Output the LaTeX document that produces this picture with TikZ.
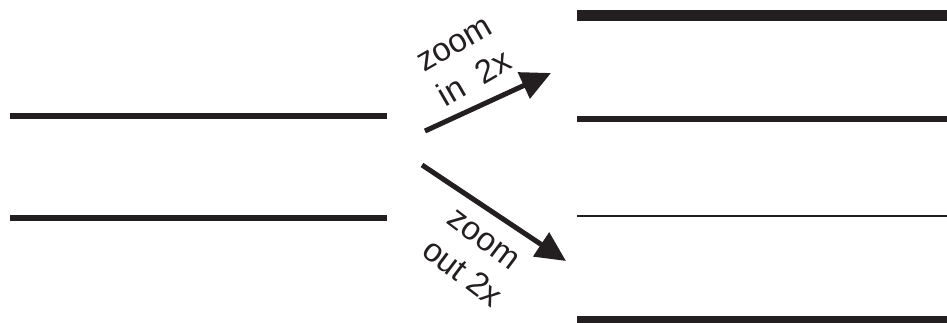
\documentclass[tikz,border=0pt]{standalone}
\usepackage{fontspec}
\setmainfont{Liberation Sans}
\usetikzlibrary{arrows.meta}
\definecolor{ink}{RGB}{35,31,32}
\begin{document}
\begin{tikzpicture}[x=1pt,y=-1pt,
  bar/.style={draw=ink,line cap=butt},
  zarrow/.style={draw=ink,line width=5pt,-{Triangle[length=30pt,width=28pt]}},
  lbl/.style={text=ink,font=\fontsize{33}{35}\selectfont,inner sep=0pt}]
\useasboundingbox (0,0) rectangle (947,323);
% left lines
\coordinate (l1a) at (10,116); \coordinate (l1b) at (387,116);
\coordinate (l2a) at (10,218); \coordinate (l2b) at (387,218);
\draw[bar,line width=5.5pt] (l1a) -- (l1b);
\draw[bar,line width=5.5pt] (l2a) -- (l2b);
% right lines
\coordinate (r1a) at (577,16); \coordinate (r1b) at (947,16);
\coordinate (r2a) at (577,119); \coordinate (r2b) at (947,119);
\coordinate (r3a) at (577,216); \coordinate (r3b) at (947,216);
\coordinate (r4a) at (577,319); \coordinate (r4b) at (947,319);
\draw[bar,line width=11pt] (r1a) -- (r1b);
\draw[bar,line width=6pt] (r2a) -- (r2b);
\draw[bar,line width=1.6pt] (r3a) -- (r3b);
\draw[bar,line width=7pt] (r4a) -- (r4b);
% arrows
\coordinate (ina) at (425,131); \coordinate (inb) at (551,73);
\coordinate (outa) at (422,165); \coordinate (outb) at (566,261);
\draw[zarrow] (ina) -- (inb);
\draw[zarrow] (outa) -- (outb);
% labels
\node[lbl,rotate=30] (zin1) at (455,45) {zoom};
\node[lbl,rotate=30] (zin2) at (474,77) {in\ \ 2x};
\node[lbl,rotate=-37] (zout1) at (483,240) {zoom};
\node[lbl,rotate=-37] (zout2) at (463,272) {out 2x};
\end{tikzpicture}
\end{document}
